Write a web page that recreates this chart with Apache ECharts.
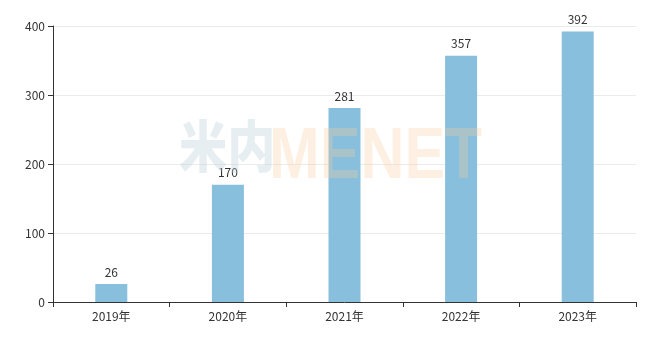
<!DOCTYPE html>
<html><head><meta charset="utf-8">
<script src="https://cdn.jsdelivr.net/npm/echarts@6/dist/echarts.min.js"></script>
<style>html,body{margin:0;padding:0;background:#fff}#c{width:659px;height:354px}</style>
</head><body><div id="c"></div>
<script>
var categories = ['2019年','2020年','2021年','2022年','2023年'];
var values = [26, 170, 281, 357, 392];
var yTicks = [0, 100, 200, 300, 400];

var chart = echarts.init(document.getElementById('c'));
var font = '"Noto Sans CJK SC", "Microsoft YaHei", sans-serif';
chart.setOption({
  animation: false,
  grid: { left: 53, right: 23, top: 26, bottom: 52, containLabel: false },
  xAxis: {
    type: 'category', data: categories,
    axisLine: { lineStyle: { color: '#333' } },
    axisTick: { show: true, length: 5, lineStyle: { color: '#333' } },
    axisLabel: { color: '#333', fontSize: 12, fontFamily: font, margin: 8 }
  },
  yAxis: {
    type: 'value', min: yTicks[0], max: yTicks[yTicks.length-1], interval: 100,
    axisLine: { show: true, lineStyle: { color: '#333' } },
    axisTick: { show: true, length: 5, lineStyle: { color: '#333' } },
    axisLabel: { color: '#333', fontSize: 12, fontFamily: font, margin: 8 },
    splitLine: { lineStyle: { color: '#ebebeb' } }
  },
  series: [{
    type: 'bar', data: values, barWidth: 32,
    itemStyle: { color: '#87bfdc' },
    label: { show: true, position: 'top', color: '#333', fontSize: 12, fontFamily: font, distance: 6 }
  }],
  graphic: [
    { type: 'text', left: 179, top: 118, z: 100, silent: true, scaleX: 0.86,
      style: { text: '米内', font: '900 56px "Noto Sans CJK SC", sans-serif', fill: 'rgba(185,205,218,0.35)' } },
    { type: 'text', left: 269, top: 121, z: 100, silent: true, scaleX: 0.835,
      style: { text: 'MENET', font: 'bold 73px "Liberation Sans", Arial, sans-serif', fill: 'rgba(250,205,160,0.3)' } }
  ]
});
</script></body></html>
